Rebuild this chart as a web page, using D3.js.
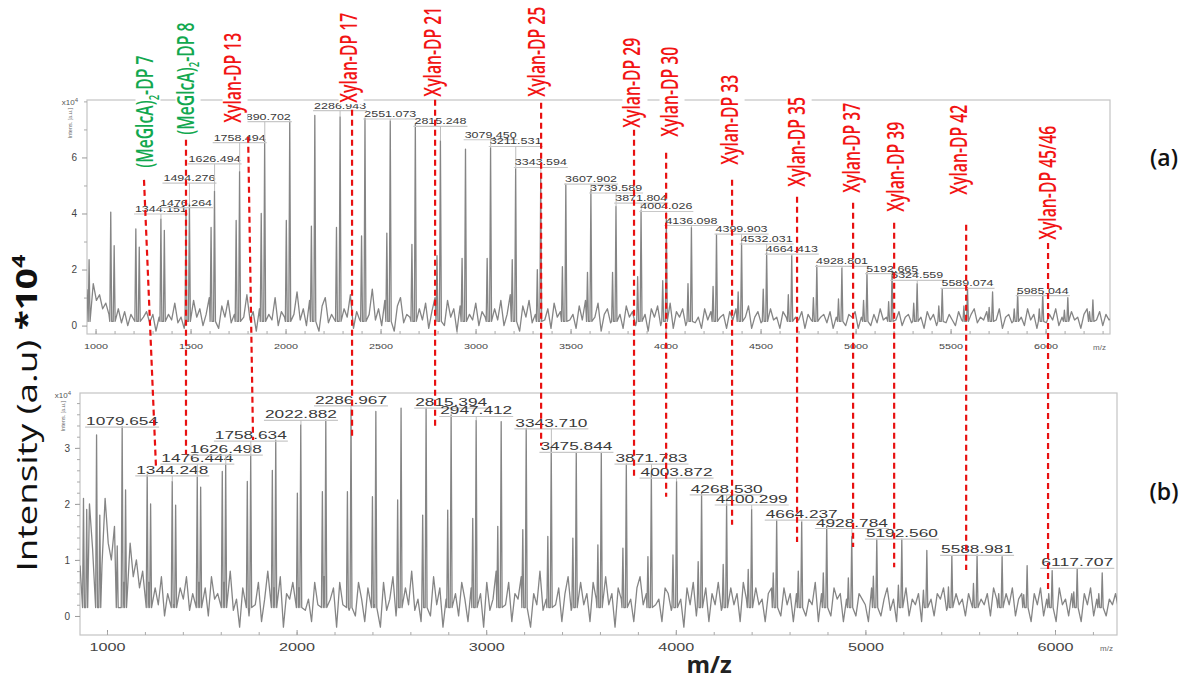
<!DOCTYPE html>
<html><head><meta charset="utf-8">
<script src="https://cdn.jsdelivr.net/npm/d3@7"></script>
<style>body{margin:0;background:#fff}</style>
</head><body>
<svg id="c" width="1195" height="683"></svg>
<script>
// ---------------- DATA ----------------
// Panel (a) peaks
const topPeakMz = [966,1080,1098,1212,1230,1344,1362,1476,1494,1608,1626,1740,1758,1872,1890,2004,2022,2136,2154,2268,2287,2400,2418,2533,2551,2665,2683,2797,2815,2929,2947,3061,3079,3193,3211,3325,3343,3457,3475,3589,3607,3721,3739,3853,3871,3985,4004,4118,4136,4250,4268,4382,4400,4514,4532,4646,4664,4778,4796,4910,4928,5042,5060,5174,5192,5306,5324,5438,5456,5570,5589,5703,5721,5835,5853,5967,5985,6099,6117,6231,6249];
const topPeakInt = [2.35,4.05,2.85,3.45,2.8,3.8,3.4,4.0,4.35,3.5,4.8,3.75,5.5,4.0,6.6,3.75,7.3,3.55,7.5,3.5,7.45,3.2,7.4,3.3,7.3,2.9,7.2,2.5,6.6,2.4,6.3,2.4,6.35,2.35,5.6,2.0,5.4,2.1,5.05,1.9,4.8,1.9,4.25,1.75,4.1,1.6,3.8,1.5,3.5,1.4,3.25,1.2,2.95,1.3,2.6,1.1,2.5,1.0,2.15,0.95,2.05,0.9,1.9,0.85,1.95,0.8,1.5,0.7,1.3,0.7,1.35,0.65,1.2,0.6,1.15,0.6,1.15,0.55,1.0,0.5,0.92];
// Panel (a) baseline noise, m/z 955 onward every 16.5
const topNoiseStart = 955, topNoiseStep = 16.5;
const topNoise = [1.3,1.9,1.5,0.9,1.1,0.6,0.8,0.4,0.7,
0.3,0.6,0.1,0.5,0.0,0.4,0.2,0.7,-0.1,0.3,0.5,0.1,0.4,-0.2,0.3,0.6,0.0,0.4,0.2,0.8,0.1,0.3,-0.1,0.5,
0.2,0.9,0.3,0.6,0.0,0.4,1.0,0.2,0.5,-0.1,0.7,0.3,0.9,0.1,0.4,0.0,0.8,0.3,1.1,0.2,0.5,-0.2,0.6,0.9,0.1,0.4,0.2,1.0,0.0,0.5,0.3,0.8,-0.1,0.4,1.2,0.2,0.6,0.0,0.9,0.3,0.5,-0.2,0.7,1.0,0.1,0.4,0.2,0.9,0.0,0.6,0.3,1.1,-0.1,0.5,0.2,0.8,0.0,0.4,1.3,0.2,0.6,
0.0,0.9,0.3,0.5,-0.2,0.7,1.0,0.1,0.4,0.3,1.2,0.0,0.6,0.2,0.8,-0.1,0.5,1.0,0.2,0.4,0.0,0.9,0.3,0.6,-0.2,0.7,1.1,0.1,0.4,0.2,0.8,0.0,0.5,0.3,1.0,-0.1,0.6,0.2,0.9,0.0,0.4,1.1,0.2,0.5,-0.2,0.7,0.3,0.9,0.1,0.4,0.0,1.0,0.2,0.6,-0.1,0.8,0.3,0.5,0.0,0.9,0.2,
0.4,-0.1,0.7,0.2,0.9,0.0,0.5,0.3,0.8,-0.2,0.4,0.6,0.1,0.9,0.2,0.4,-0.1,0.7,0.3,0.5,0.0,0.8,0.2,0.4,-0.2,0.6,0.3,0.7,0.0,0.4,0.2,0.8,-0.1,0.5,0.3,0.6,0.0,0.4,0.7,0.1,0.3,-0.1,0.6,0.2,0.5,0.0,0.7,0.3,0.4,-0.1,0.5,0.2,0.6,0.0,0.4,0.3,0.7,-0.1,0.3,0.5,0.1,
0.4,0.0,0.6,0.2,0.3,-0.1,0.5,0.3,0.6,0.0,0.3,0.2,0.5,-0.1,0.4,0.2,0.6,0.0,0.3,0.4,0.1,0.5,-0.1,0.3,0.2,0.6,0.0,0.4,0.3,0.5,-0.1,0.3,0.2,0.5,0.0,0.4,0.1,0.6,0.2,0.3,-0.1,0.4,0.2,0.5,0.0,0.3,0.4,0.1,0.6,0.2,0.3,-0.1,0.5,0.2,0.4,0.0,0.3,0.5,0.1,0.4,0.2,
0.0,0.5,0.2,0.3,-0.1,0.4,0.6,0.1,0.3,0.2,0.5,0.0,0.4,0.2,0.6,-0.1,0.3,0.4,0.1,0.5,0.2,0.3,0.0,0.6,0.2,0.4,-0.1,0.3,0.5,0.1,0.4,0.2,0.6,0.0,0.3,0.4,0.1,0.5,0.2,0.3,-0.1,0.4,0.6,0.1,0.3,0.2,0.5,0.0,0.4,0.2,0.3];
const topLabels = ["1344.151","1476.264","1494.276","1626.494","1758.494","1890.702","2286.943","2551.073","2815.248","3079.450","3211.531","3343.594","3607.902","3739.589","3871.804","4004.026","4136.098","4399.903","4532.031","4664.413","4928.801","5192.665","5324.559","5589.074","5985.044"];
const topLabelLevel = [4.16,4.39,5.26,5.95,6.71,7.46,7.85,7.55,7.29,6.81,6.57,5.82,5.23,4.91,4.55,4.25,3.75,3.44,3.09,2.73,2.29,2.03,1.79,1.51,1.25];

// Panel (b) peaks
const botPeakMz = [876,893,945,962,1054,1080,1098,1212,1230,1344,1362,1476,1494,1608,1626,1740,1758,1872,1890,2004,2022,2136,2154,2268,2287,2400,2418,2533,2551,2665,2683,2797,2815,2929,2947,3061,3079,3193,3211,3325,3343,3457,3475,3589,3607,3721,3739,3853,3871,3985,4004,4118,4136,4250,4268,4382,4400,4514,4532,4646,4664,4778,4796,4910,4928,5042,5060,5174,5192,5306,5324,5438,5456,5570,5589,5703,5721,5835,5853,5967,5985,6099,6117,6231,6249];
const botPeakInt = [2.1,1.9,3.23,1.8,1.25,3.38,2.25,2.52,2.0,2.4,1.98,2.48,2.3,2.58,2.7,2.4,2.87,2.6,3.14,2.19,3.41,2.22,3.5,2.22,3.68,2.13,3.65,2.07,3.71,1.8,3.71,1.89,3.59,1.74,3.49,1.6,3.47,1.54,3.35,1.42,3.0,1.39,2.92,1.27,2.92,1.21,2.71,1.06,2.55,1.09,2.4,0.97,2.19,0.92,2.0,0.83,1.9,0.77,1.71,0.8,1.68,0.77,1.6,0.68,1.42,0.71,1.37,0.55,1.37,0.46,1.17,0.52,1.07,0.58,1.09,0.4,1.06,0.38,0.9,0.4,0.81,0.43,0.84,0.4,0.77];
const botNoiseStart = 858, botNoiseStep = 16.5;
const botNoise = [0.9,0.6,1.4,2.0,1.2,1.8,1.5,0.9,2.1,1.3,1.0,1.6,0.8,1.1,0.6,0.4,1.3,0.7,1.0,0.5,0.8,
0.3,0.6,0.1,0.5,0.2,0.7,0.0,0.4,0.6,0.2,-0.1,0.5,0.3,0.7,0.1,0.4,-0.2,0.6,
0.2,0.5,0.0,0.7,0.3,0.4,-0.1,0.6,0.2,0.8,0.1,0.3,-0.2,0.5,0.7,0.0,0.4,0.2,0.6,-0.1,0.3,0.8,0.1,0.5,0.2,0.7,-0.2,0.4,0.3,0.6,0.0,0.5,0.8,0.1,0.3,-0.1,0.6,0.2,0.4,0.7,0.0,0.3,0.5,-0.2,0.6,0.2,0.8,0.1,0.4,0.0,0.6,0.3,-0.1,0.5,0.7,0.2,0.4,-0.2,0.6,0.1,0.3,
0.7,0.0,0.4,-0.3,0.5,0.2,0.8,0.1,0.3,-0.1,0.6,0.4,0.0,0.7,0.2,0.5,-0.2,0.3,0.8,0.1,0.4,0.0,0.6,0.3,-0.1,0.5,0.7,0.2,0.4,-0.2,0.6,0.1,0.3,0.8,0.0,0.5,0.2,0.6,-0.1,0.4,0.3,0.7,0.0,0.5,-0.2,0.4,0.2,0.8,0.1,0.3,0.0,0.6,0.2,0.5,-0.1,0.4,0.7,0.1,0.3,0.0,0.6,
0.2,0.4,-0.1,0.6,0.3,0.5,0.0,0.7,0.2,0.4,-0.2,0.5,0.3,0.6,0.1,0.3,-0.1,0.5,0.7,0.2,0.4,0.0,0.6,0.2,0.3,-0.1,0.5,0.4,0.1,0.6,0.2,0.3,-0.2,0.5,0.2,0.6,0.0,0.4,0.3,0.5,-0.1,0.4,0.2,0.6,0.1,0.3,0.0,0.5,0.2,0.4,-0.1,0.6,0.3,0.4,0.0,0.5,0.2,0.3,-0.1,0.4,0.5,
0.1,0.3,0.0,0.5,0.2,0.4,-0.1,0.4,0.3,0.5,0.0,0.3,0.2,0.6,-0.1,0.4,0.2,0.3,0.0,0.5,0.3,0.4,-0.1,0.3,0.2,0.5,0.0,0.4,0.3,0.2,-0.1,0.5,0.2,0.4,0.0,0.3,0.5,0.1,0.3,-0.1,0.4,0.2,0.5,0.0,0.3,0.2,0.4,-0.1,0.5,0.2,0.3,0.0,0.4,0.3,0.5,0.1,0.3,-0.1,0.4,0.2,0.3,
0.0,0.4,0.2,0.5,-0.1,0.3,0.2,0.4,0.0,0.5,0.3,0.2,-0.1,0.4,0.2,0.5,0.0,0.3,0.4,0.1,0.3,-0.1,0.4,0.2,0.5,0.0,0.3,0.2,0.4,-0.1,0.5,0.2,0.3,0.0,0.4,0.3,0.2,-0.1,0.4,0.2,0.5,0.0,0.3,0.2,0.4,0.0,0.3,0.2,0.4,0.1];
const botLabels = ["1079.654","1344.248","1476.444","1626.498","1758.634","2022.882","2286.967","2815.394","2947.412","3343.710","3475.844","3871.783","4003.872","4268.530","4400.299","4664.237","4928.784","5192.560","5588.981","6117.707"];
const botLabelLevel = [3.46,2.59,2.8,2.96,3.21,3.58,3.84,3.8,3.65,3.43,3.01,2.8,2.55,2.25,2.07,1.8,1.65,1.46,1.17,0.94];

// Axis ticks
const topXTicks = [1000,1500,2000,2500,3000,3500,4000,4500,5000,5500,6000];
const topYTicks = [0,2,4,6];
const botXTicks = [1000,2000,3000,4000,5000,6000];
const botYTicks = [0,1,2,3];

// Annotations
const annLabels = ["(MeGlcA)2-DP 7","(MeGlcA)2-DP 8","Xylan-DP 13","Xylan-DP 17","Xylan-DP 21","Xylan-DP 25","Xylan-DP 29","Xylan-DP 30","Xylan-DP 33","Xylan-DP 35","Xylan-DP 37","Xylan-DP 39","Xylan-DP 42","Xylan-DP 45/46"];
const annGroup = ["MeGlcA","MeGlcA","Xylan","Xylan","Xylan","Xylan","Xylan","Xylan","Xylan","Xylan","Xylan","Xylan","Xylan","Xylan"];
const annLineMz = [1255,1476,1803,2350,2787,3345,3834,4003,4350,4692,4987,5203,5582,6013];
const annLineMzEnd = [1318,1476,1829,2350,2787,3345,3834,4003,4350,4692,4987,5203,5582,6013];
const annTextMz = [1276,1487,1734,2345,2787,3339,3839,4034,4350,4703,4992,5224,5555,6024];
const annTextBase = [5.63,6.81,7.24,7.95,8.17,8.17,7.06,6.74,5.74,4.95,4.74,4.06,4.67,3.06];
const annLineTop = [5.2,6.63,6.74,7.7,8.06,7.95,6.99,6.17,5.2,4.6,4.38,3.67,3.6,2.95];
const annLineEnd = [2.66,2.88,3.14,3.18,3.36,3.04,2.48,2.13,1.63,1.32,1.23,0.87,0.82,0.46];

// ---------------- DRAW ----------------
const svg = d3.select('#c');
const xTop = d3.scaleLinear().domain([955, 6339]).range([87, 1110]);
const yTop = d3.scaleLinear().domain([-0.3, 8.05]).range([334, 100]);
const xBot = d3.scaleLinear().domain([857.6, 6327]).range([80, 1117]);
const yBot = d3.scaleLinear().domain([-0.34, 3.98]).range([635, 393]);
const annColor = d3.scaleOrdinal().domain(["MeGlcA","Xylan"]).range(["#12a84f","#f21414"]);
const FONT = "'Liberation Sans', Arial, sans-serif";

const defs = svg.append('defs');
function clip(id, x, y) {
  const [x0,x1] = x.range(), [y0,y1] = y.range();
  defs.append('clipPath').attr('id', id).append('rect')
    .attr('x', x0).attr('y', y1).attr('width', x1-x0).attr('height', y0-y1);
}
clip('clipTop', xTop, yTop); clip('clipBot', xBot, yBot);

function spectrumPoints(start, step, noise, pkMz, pkInt) {
  const pts = [];
  noise.forEach((v,i) => {
    const m = start + i*step;
    if (pkMz.every(p => Math.abs(p-m) > 8)) pts.push([m, v]);
  });
  pkMz.forEach((m,i) => { pts.push([m-5, 0.15], [m, pkInt[i]], [m+5, 0.15]); });
  pts.sort((a,b) => a[0]-b[0]);
  return pts;
}

function panel(x, y, id, noiseStart, noiseStep, noise, pkMz, pkInt, labels, levels, xTicks, xMinor, yTicks, yMinor, xFs, xLabW, pkFs, pkLabW) {
  const g = svg.append('g');
  const [x0,x1] = x.range(), [y0,y1] = y.range();
  g.append('rect').attr('x', x0).attr('y', y1).attr('width', x1-x0).attr('height', y0-y1)
    .attr('fill', 'none').attr('stroke', '#c4c4c4').attr('stroke-width', 1.2);

  const ax = g.append('g').attr('transform', `translate(0,${y0})`)
    .call(d3.axisBottom(x).tickValues(xTicks).tickSize(-5).tickPadding(9).tickFormat(d3.format('d')));
  ax.select('.domain').remove();
  ax.selectAll('line').attr('stroke', '#999');
  ax.selectAll('text').attr('font-family', FONT).attr('font-size', xFs).attr('fill', '#444')
    .attr('textLength', xLabW).attr('lengthAdjust', 'spacingAndGlyphs');
  const axm = g.append('g').attr('transform', `translate(0,${y0})`)
    .call(d3.axisBottom(x).tickValues(xMinor).tickSize(-3).tickFormat(''));
  axm.select('.domain').remove(); axm.selectAll('line').attr('stroke', '#aaa');

  const ay = g.append('g').attr('transform', `translate(${x0},0)`)
    .call(d3.axisLeft(y).tickValues(yTicks).tickSize(5).tickPadding(5).tickFormat(d3.format('d')));
  ay.select('.domain').remove();
  ay.selectAll('line').attr('stroke', '#999');
  ay.selectAll('text').attr('font-family', FONT).attr('font-size', 10).attr('fill', '#444');
  const aym = g.append('g').attr('transform', `translate(${x0},0)`)
    .call(d3.axisLeft(y).tickValues(yMinor).tickSize(3).tickFormat(''));
  aym.select('.domain').remove(); aym.selectAll('line').attr('stroke', '#aaa');

  const ex = g.append('text').attr('x', x0-9).attr('y', y1+5).attr('text-anchor', 'end')
    .attr('font-family', FONT).attr('font-size', 8).attr('fill', '#555');
  ex.append('tspan').text('x10');
  ex.append('tspan').attr('dy', -3).attr('font-size', 6).text('4');
  g.append('text').attr('transform', `translate(${x0-15},${y1+8}) rotate(-90)`)
    .attr('text-anchor', 'end').attr('font-family', FONT).attr('font-size', 5.5).attr('fill', '#666')
    .text('Intens. [a.u.]');
  g.append('text').attr('x', x1-4).attr('y', y0+16).attr('text-anchor', 'end')
    .attr('font-family', FONT).attr('font-size', 8).attr('fill', '#666').text('m/z');

  const pts = spectrumPoints(noiseStart, noiseStep, noise, pkMz, pkInt);
  g.append('path').datum(pts).attr('clip-path', `url(#${id})`)
    .attr('d', d3.line().x(d => x(d[0])).y(d => y(d[1])))
    .attr('fill', 'none').attr('stroke', '#858585').attr('stroke-width', 1.3).attr('stroke-linejoin', 'round');

  labels.forEach((t,i) => {
    const mz = +t, px = x(mz), ly = y(levels[i]);
    const j = d3.leastIndex(pkMz, m => Math.abs(m - mz));
    const py = y(pkInt[j]);
    g.append('line').attr('x1', px - pkLabW/2 - 1).attr('x2', px + pkLabW/2 + 1)
      .attr('y1', ly + 5).attr('y2', ly + 5).attr('stroke', '#c8c8c8').attr('stroke-width', 1.2);
    if (py > ly + 5) g.append('line').attr('x1', px).attr('x2', px).attr('y1', py).attr('y2', ly + 5)
      .attr('stroke', '#bdbdbd').attr('stroke-width', 1);
    g.append('text').attr('x', px).attr('y', ly + 3).attr('text-anchor', 'middle')
      .attr('font-family', FONT).attr('font-size', pkFs).attr('fill', '#3a3a3a')
      .attr('textLength', pkLabW).attr('lengthAdjust', 'spacingAndGlyphs').text(t);
  });
}

panel(xTop, yTop, 'clipTop', topNoiseStart, topNoiseStep, topNoise, topPeakMz, topPeakInt, topLabels, topLabelLevel,
  topXTicks, d3.range(1000, 6301, 100), topYTicks, [1,3,5,7,8], 8, 24, 8.5, 52);
panel(xBot, yBot, 'clipBot', botNoiseStart, botNoiseStep, botNoise, botPeakMz, botPeakInt, botLabels, botLabelLevel,
  botXTicks, d3.range(1000, 6301, 200), botYTicks, d3.range(0.2, 3.95, 0.2), 10.5, 36, 10, 72);

// annotation dashed lines
const ga = svg.append('g');
annLabels.forEach((t,i) => {
  ga.append('line')
    .attr('x1', xTop(annLineMz[i])).attr('y1', yTop(annLineTop[i]))
    .attr('x2', xTop(annLineMzEnd[i])).attr('y2', yBot(annLineEnd[i]))
    .attr('stroke', '#e81010').attr('stroke-width', 2.2).attr('stroke-dasharray', '6,4');
});

// annotation texts
const AFONT = "'Open Sans', 'Noto Sans', sans-serif";
const probe = svg.append('text').attr('font-family', AFONT).attr('font-size', 23).attr('font-weight', 600).text('Xylan-DP 17');
const k = 90 / probe.node().getComputedTextLength();
probe.remove();
annLabels.forEach((t,i) => {
  const gx = xTop(annTextMz[i]) + 5.5, gy = yTop(annTextBase[i]);
  const g = svg.append('g').attr('transform', `translate(${gx},${gy}) rotate(-90) scale(${k},1)`);
  const rect = g.append('rect').attr('fill', '#fff');
  const txt = g.append('text').attr('x', 0).attr('y', 0).attr('font-family', AFONT).attr('font-size', 23)
    .attr('font-weight', 600).attr('fill', annColor(annGroup[i]));
  if (t.indexOf(')2') >= 0) {
    const [a, b] = t.split(')2');
    txt.append('tspan').text(a + ')');
    txt.append('tspan').attr('dy', 5).attr('font-size', 14).text('2');
    txt.append('tspan').attr('dy', -5).text(b);
  } else txt.text(t);
  const len = txt.node().getComputedTextLength();
  rect.attr('x', -2).attr('y', -18).attr('width', len + 4).attr('height', 25);
});

// titles
const yt = svg.append('text').attr('font-family', AFONT).attr('font-size', 28).attr('fill', '#111')
  .attr('text-anchor', 'middle');
yt.append('tspan').text('Intensity (a.u) ');
yt.append('tspan').attr('font-weight', 'bold').text('*10');
yt.append('tspan').attr('font-weight', 'bold').attr('font-size', 18).attr('dy', -12).text('4');
const ytl = yt.node().getComputedTextLength();
yt.attr('transform', `translate(37,413) rotate(-90) scale(${317/ytl},1)`);

svg.append('text').attr('x', 709).attr('y', 673).attr('text-anchor', 'middle')
  .attr('font-family', AFONT).attr('font-size', 24).attr('font-weight', 'bold').attr('fill', '#222').text('m/z');
svg.append('text').attr('x', 1164).attr('y', 166).attr('text-anchor', 'middle')
  .attr('font-family', AFONT).attr('font-size', 23).attr('font-weight', 600).attr('fill', '#111').text('(a)');
svg.append('text').attr('x', 1164).attr('y', 500).attr('text-anchor', 'middle')
  .attr('font-family', AFONT).attr('font-size', 23).attr('font-weight', 600).attr('fill', '#111').text('(b)');
</script>
</body></html>
